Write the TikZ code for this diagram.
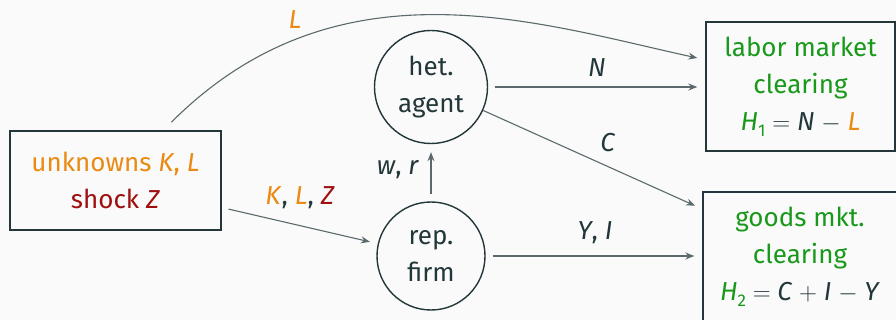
\documentclass[tikz,border=0pt]{standalone}
\usepackage{fontspec}
\setmainfont{Fira Sans}
\usetikzlibrary{arrows.meta,calc}
\definecolor{fg}{HTML}{23373B}
\definecolor{ln}{HTML}{5A6A6C}
\definecolor{bg}{HTML}{FAFAFA}
\definecolor{orn}{HTML}{EB8A12}
\definecolor{drd}{HTML}{A00F0F}
\definecolor{grn}{HTML}{18991A}
\newcommand{\vi}[1]{\textit{#1}}
\newcommand{\opsp}[1]{\hspace{0.26em}$#1$\hspace{0.26em}}
\newcommand{\sbx}[1]{\raisebox{-0.22em}{\fontsize{17}{17}\selectfont #1}}
\begin{document}
\begin{tikzpicture}[x=1pt,y=-1pt,
  every node/.style={font=\fontsize{26}{37}\selectfont, text=fg},
  boxnode/.style={draw=fg, line width=1.4pt, rectangle, align=center, inner sep=0pt},
  circnode/.style={draw=fg, line width=1.4pt, circle, align=center, inner sep=0pt},
  conn/.style={draw=ln, line width=1.1pt, -{Stealth[length=9pt,width=7pt,inset=3pt]}, shorten <=7pt, shorten >=8pt},
  lbl/.style={inner sep=0pt}
]
\fill[bg] (0,0) rectangle (896,320);
\useasboundingbox (0,0) rectangle (896,320);

\node[boxnode, minimum width=211pt, minimum height=99pt] (lbox) at (115.5,180.5)
  {\textcolor{orn}{unknowns \vi{K}, \vi{L}}\\\textcolor{drd}{shock \vi{Z}}};
\node[circnode, minimum size=113pt] (het) at (431,87) {het.\\agent};
\node[circnode, minimum size=108pt] (firm) at (431,256) {rep.\\firm};
\node[boxnode, minimum width=189pt, minimum height=129pt] (labbox) at (800.5,86.5)
  {\textcolor{grn}{labor market}\\\textcolor{grn}{clearing}\\\textcolor{grn}{\vi{H}\sbx{1}}\opsp{=}\vi{N}\opsp{-}\textcolor{orn}{\vi{L}}};
\node[boxnode, minimum width=194pt, minimum height=130pt] (goods) at (800,257)
  {\textcolor{grn}{goods mkt.}\\\textcolor{grn}{clearing}\\\textcolor{grn}{\vi{H}\sbx{2}}\opsp{=}\vi{C}\opsp{+}\vi{I}\opsp{-}\vi{Y}};

% curved L arrow
\coordinate (cs) at ([xshift=162pt,yshift=8pt]lbox.north west);
\coordinate (ce) at ([xshift=-8pt,yshift=28.5pt]labbox.west);
\draw[conn, shorten <=0pt, shorten >=0pt] (cs) .. controls +(-45:235) and +(-167.7:164) .. (ce);
\node[lbl, text=orn] (lL) at (295,20) {\vi{L}};

% K,L,Z arrow
\draw[conn] ([yshift=-27pt]lbox.east) -- (firm);
\node[lbl] (lKLZ) at (300,198) {\textcolor{orn}{\vi{K}}, \textcolor{orn}{\vi{L}}, \textcolor{drd}{\vi{Z}}};

% w,r arrow
\draw[conn] (firm.north) -- (het.south);
\node[lbl] (lwr) at (398,170) {\vi{w}, \vi{r}};

% N arrow
\draw[conn] (het.east) -- (het.east -| labbox.west);
\node[lbl] (lN) at (597,68) {\vi{N}};

% C arrow
\draw[conn, shorten <=0pt] (het) -- ([yshift=48pt]goods.west);
\node[lbl] (lC) at (608,143) {\vi{C}};

% Y,I arrow
\draw[conn] (firm.east) -- (firm.east -| goods.west);
\node[lbl] (lYI) at (595,233) {\vi{Y}, \vi{I}};
\end{tikzpicture}
\end{document}
